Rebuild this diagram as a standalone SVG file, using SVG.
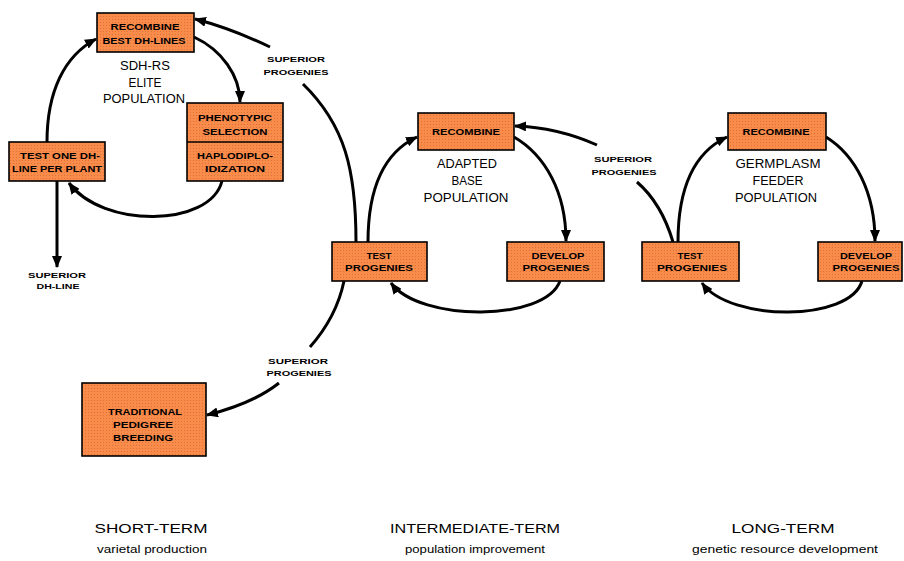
<svg xmlns="http://www.w3.org/2000/svg" width="904" height="561" viewBox="0 0 904 561">
<style>
.box{fill:url(#dots);stroke:#000;stroke-width:1.6}
.sh{fill:#000}
.bt{font-family:"Liberation Sans",Arial,sans-serif;font-weight:bold;font-size:9px;text-anchor:middle;fill:#000}
.lb{font-family:"Liberation Sans",Arial,sans-serif;font-weight:bold;font-size:8px;text-anchor:middle;fill:#000}
.pop{font-family:"Liberation Sans",Arial,sans-serif;font-size:12px;text-anchor:middle;fill:#000}
.hd{font-family:"Liberation Sans",Arial,sans-serif;font-size:13px;text-anchor:middle;fill:#000}
.sub{font-family:"Liberation Sans",Arial,sans-serif;font-size:10px;text-anchor:middle;fill:#000}
.c{fill:none;stroke:#000;stroke-width:3;marker-end:url(#ah)}
.cn{fill:none;stroke:#000;stroke-width:3}
</style>
<defs>
<pattern id="dots" width="3" height="3" patternUnits="userSpaceOnUse">
<rect width="3" height="3" fill="#F98B4B"/>
<rect x="1" y="1" width="1" height="1" fill="#DD7238"/>
</pattern>
<marker id="ah" viewBox="0 0 12 10" refX="11" refY="5" markerWidth="12" markerHeight="10" markerUnits="userSpaceOnUse" orient="auto">
<path d="M0,0 L12,5 L0,10 z" fill="#000"/>
</marker>
</defs>
<rect width="904" height="561" fill="#fff"/>

<g id="connectors">
<path class="c" d="M47,142 C47,92 64,56 96,39"/>
<path class="c" d="M194,37 C222,50 240,76 240,102"/>
<path class="c" d="M222,181 C210,228 102,228 69,183"/>
<path class="c" d="M57,181 L57,267"/>
<path class="c" d="M368,242 C368,186 385,152 417,137"/>
<path class="c" d="M514,137 C545,155 566,192 566,241"/>
<path class="c" d="M560,281 C545,322 420,322 391,283"/>
<path class="c" d="M678,242 C678,186 695,152 727,137"/>
<path class="c" d="M826,137 C855,155 875,192 875,241"/>
<path class="c" d="M862,281 C850,322 730,322 702,283"/>
<path class="cn" d="M356,242 C356,170 345,125 303,84"/>
<path class="c" d="M270,47 C245,35 222,26 195,19"/>
<path class="cn" d="M673,242 C665,215 652,195 637,182"/>
<path class="c" d="M597,145 C570,133 545,127 515,126"/>
<path class="cn" d="M344,281 C338,310 325,330 310,347"/>
<path class="c" d="M279,383 C260,398 235,408 207,415"/>
</g>

<g id="n-recombine-dh">
<rect class="box" x="97" y="13" width="97" height="39"/>
<text class="bt" x="145" y="29.5" textLength="69" lengthAdjust="spacingAndGlyphs">RECOMBINE</text>
<text class="bt" x="144" y="43.5" textLength="83" lengthAdjust="spacingAndGlyphs">BEST DH-LINES</text>
</g>
<g id="l-sdh">
<text class="pop" x="145" y="70" textLength="50" lengthAdjust="spacingAndGlyphs">SDH-RS</text>
<text class="pop" x="145" y="86.5" textLength="33" lengthAdjust="spacingAndGlyphs">ELITE</text>
<text class="pop" x="144" y="103" textLength="82" lengthAdjust="spacingAndGlyphs">POPULATION</text>
</g>
<g id="n-phenotypic">
<rect class="box" x="187" y="103" width="96" height="78"/>
<line x1="187" y1="142" x2="283" y2="142" stroke="#000" stroke-width="1.6"/>
<text class="bt" x="235" y="120.5" textLength="74" lengthAdjust="spacingAndGlyphs">PHENOTYPIC</text>
<text class="bt" x="235" y="134.5" textLength="65" lengthAdjust="spacingAndGlyphs">SELECTION</text>
<text class="bt" x="235" y="158.5" textLength="76" lengthAdjust="spacingAndGlyphs">HAPLODIPLO-</text>
<text class="bt" x="235" y="171.5" textLength="60" lengthAdjust="spacingAndGlyphs">IDIZATION</text>
</g>
<g id="n-test-one">
<rect class="box" x="9" y="142" width="96" height="39"/>
<text class="bt" x="60" y="158.5" textLength="80" lengthAdjust="spacingAndGlyphs">TEST ONE DH-</text>
<text class="bt" x="57" y="171.5" textLength="90" lengthAdjust="spacingAndGlyphs">LINE PER PLANT</text>
</g>
<g id="l-superior-dh">
<text class="lb" x="57" y="278" textLength="58" lengthAdjust="spacingAndGlyphs">SUPERIOR</text>
<text class="lb" x="58" y="289" textLength="43" lengthAdjust="spacingAndGlyphs">DH-LINE</text>
</g>

<g id="n-recombine-mid">
<rect class="box" x="418" y="113" width="96" height="37"/>
<text class="bt" x="466" y="135" textLength="68" lengthAdjust="spacingAndGlyphs">RECOMBINE</text>
</g>
<g id="l-adapted">
<text class="pop" x="467" y="167.5" textLength="60" lengthAdjust="spacingAndGlyphs">ADAPTED</text>
<text class="pop" x="467" y="184.5" textLength="31" lengthAdjust="spacingAndGlyphs">BASE</text>
<text class="pop" x="466" y="201.5" textLength="85" lengthAdjust="spacingAndGlyphs">POPULATION</text>
</g>
<g id="n-test-mid">
<rect class="box" x="332" y="242" width="95" height="39"/>
<text class="bt" x="379" y="258.5" textLength="25" lengthAdjust="spacingAndGlyphs">TEST</text>
<text class="bt" x="379" y="271" textLength="68" lengthAdjust="spacingAndGlyphs">PROGENIES</text>
</g>
<g id="n-develop-mid">
<rect class="box" x="507" y="242" width="97" height="39"/>
<text class="bt" x="558" y="258.5" textLength="53" lengthAdjust="spacingAndGlyphs">DEVELOP</text>
<text class="bt" x="556" y="271" textLength="67" lengthAdjust="spacingAndGlyphs">PROGENIES</text>
</g>

<g id="n-recombine-right">
<rect class="box" x="728" y="113" width="98" height="37"/>
<text class="bt" x="776" y="135" textLength="67" lengthAdjust="spacingAndGlyphs">RECOMBINE</text>
</g>
<g id="l-germplasm">
<text class="pop" x="778" y="167.5" textLength="85" lengthAdjust="spacingAndGlyphs">GERMPLASM</text>
<text class="pop" x="778" y="184.5" textLength="51" lengthAdjust="spacingAndGlyphs">FEEDER</text>
<text class="pop" x="776" y="201.5" textLength="82" lengthAdjust="spacingAndGlyphs">POPULATION</text>
</g>
<g id="n-test-right">
<rect class="box" x="642" y="242" width="97" height="39"/>
<text class="bt" x="690" y="258.5" textLength="25" lengthAdjust="spacingAndGlyphs">TEST</text>
<text class="bt" x="692" y="271" textLength="70" lengthAdjust="spacingAndGlyphs">PROGENIES</text>
</g>
<g id="n-develop-right">
<rect class="box" x="818" y="242" width="84" height="39"/>
<text class="bt" x="866" y="258.5" textLength="52" lengthAdjust="spacingAndGlyphs">DEVELOP</text>
<text class="bt" x="866" y="271" textLength="67" lengthAdjust="spacingAndGlyphs">PROGENIES</text>
</g>

<g id="n-traditional">
<rect class="box" x="82" y="383" width="124" height="73"/>
<text class="bt" x="145" y="414.5" textLength="74" lengthAdjust="spacingAndGlyphs">TRADITIONAL</text>
<text class="bt" x="143" y="427.5" textLength="60" lengthAdjust="spacingAndGlyphs">PEDIGREE</text>
<text class="bt" x="143" y="440.5" textLength="60" lengthAdjust="spacingAndGlyphs">BREEDING</text>
</g>

<g id="l-superior-top">
<text class="lb" x="296" y="62" textLength="58" lengthAdjust="spacingAndGlyphs">SUPERIOR</text>
<text class="lb" x="296" y="75" textLength="65" lengthAdjust="spacingAndGlyphs">PROGENIES</text>
</g>
<g id="l-superior-mid">
<text class="lb" x="623" y="162" textLength="58" lengthAdjust="spacingAndGlyphs">SUPERIOR</text>
<text class="lb" x="624" y="174.5" textLength="65" lengthAdjust="spacingAndGlyphs">PROGENIES</text>
</g>
<g id="l-superior-bot">
<text class="lb" x="298" y="364" textLength="60" lengthAdjust="spacingAndGlyphs">SUPERIOR</text>
<text class="lb" x="299" y="375.5" textLength="65" lengthAdjust="spacingAndGlyphs">PROGENIES</text>
</g>

<g id="l-terms">
<text class="hd" x="151" y="533" textLength="113" lengthAdjust="spacingAndGlyphs">SHORT-TERM</text>
<text class="sub" x="152" y="553" textLength="110" lengthAdjust="spacingAndGlyphs">varietal production</text>
<text class="hd" x="475" y="533" textLength="170" lengthAdjust="spacingAndGlyphs">INTERMEDIATE-TERM</text>
<text class="sub" x="475" y="553" textLength="140" lengthAdjust="spacingAndGlyphs">population improvement</text>
<text class="hd" x="783" y="533" textLength="103" lengthAdjust="spacingAndGlyphs">LONG-TERM</text>
<text class="sub" x="785" y="553" textLength="186" lengthAdjust="spacingAndGlyphs">genetic resource development</text>
</g>
</svg>
